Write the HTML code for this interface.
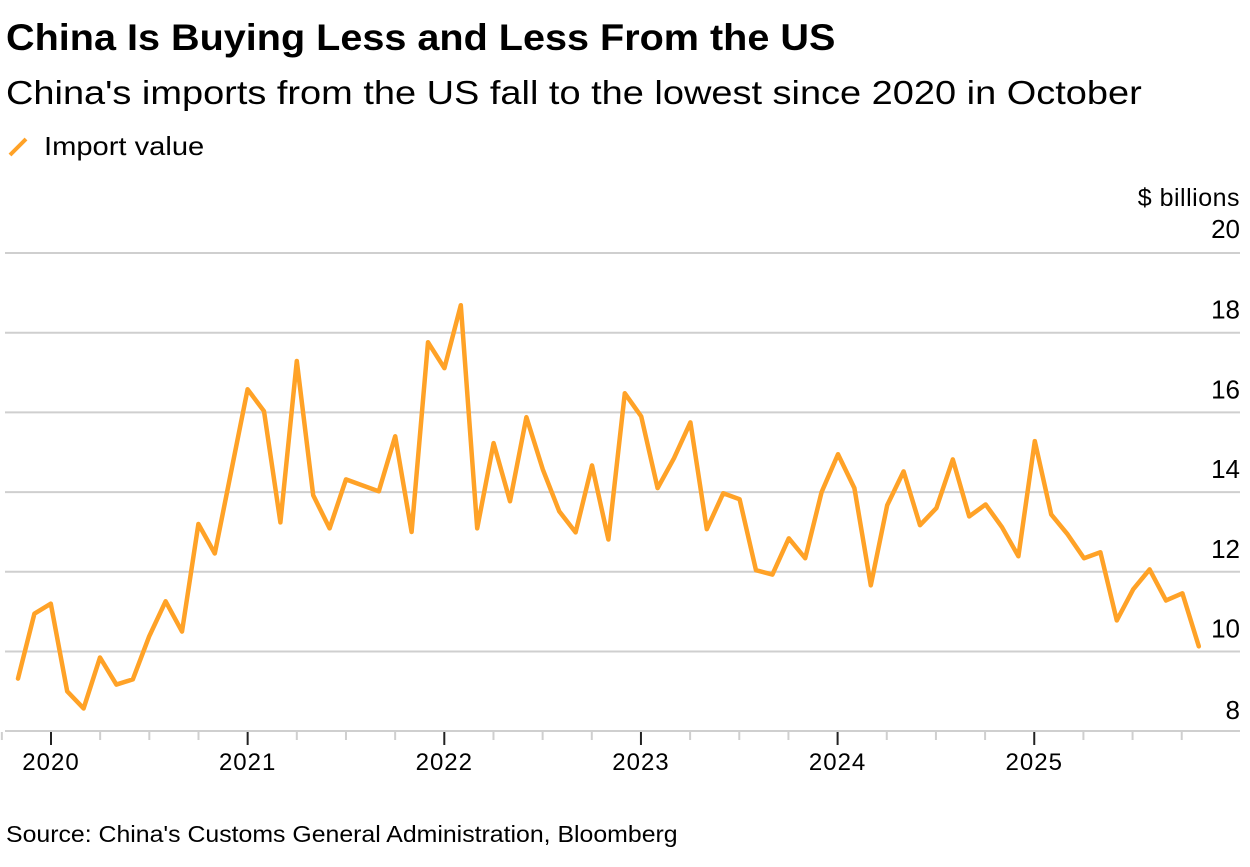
<!DOCTYPE html>
<html><head><meta charset="utf-8"><style>
body{margin:0;background:#fff;font-family:"Liberation Sans",Arial,sans-serif;color:#000}
#wrap{position:relative;width:1250px;height:867px;overflow:hidden}
.t{position:absolute;white-space:nowrap;transform-origin:0 0}
</style></head><body>
<div id="wrap">
<div class="t" style="left:6px;top:17px;font-size:37px;font-weight:bold;transform:scaleX(1.07)">China Is Buying Less and Less From the US</div>
<div class="t" style="left:6px;top:74px;font-size:33px;transform:scaleX(1.15)">China's imports from the US fall to the lowest since 2020 in October</div>
<div class="t" style="left:6px;top:131px;font-size:26px"><svg width="30" height="26" style="vertical-align:-4px"><line x1="4" y1="22" x2="20" y2="6" stroke="#ffa227" stroke-width="4"/></svg><span style="margin-left:8px;display:inline-block;transform:scaleX(1.12);transform-origin:0 0">Import value</span></div>
<div class="t" style="left:6px;top:821px;font-size:23px;transform:scaleX(1.08)">Source: China's Customs General Administration, Bloomberg</div>
<svg id="chart" width="1250" height="867" style="position:absolute;left:0;top:0"></svg>
</div>
<script>
const yTicks=[8,10,12,14,16,18,20];
const years=["2020","2021","2022","2023","2024","2025"];
const values=[9.32,10.95,11.2,9.0,8.57,9.85,9.17,9.3,10.38,11.26,10.5,13.2,12.46,14.52,16.58,16.03,13.24,17.29,13.92,13.09,14.32,14.17,14.02,15.4,13.0,17.76,17.11,18.69,13.09,15.23,13.77,15.88,14.57,13.52,12.99,14.67,12.81,16.48,15.9,14.1,14.85,15.75,13.07,13.97,13.82,12.04,11.93,12.84,12.34,14.0,14.95,14.1,11.66,13.67,14.52,13.17,13.6,14.82,13.39,13.69,13.12,12.39,15.28,13.44,12.94,12.34,12.49,10.78,11.56,12.06,11.28,11.46,10.13];
const NS="http://www.w3.org/2000/svg";
const svg=document.getElementById('chart');
const y=v=>253+(20-v)*39.85;
const xm=i=>18+i*16.4;
const xYear=k=>51+k*196.65;
const FF='Liberation Sans, Arial, sans-serif';
function el(t,a){const e=document.createElementNS(NS,t);for(const k in a)e.setAttribute(k,a[k]);svg.appendChild(e);return e;}
yTicks.forEach(v=>{
  if(v>8){const g=el('line',{x1:5,x2:1240,y1:y(v),y2:y(v),stroke:'#cfcfcf','stroke-width':2});
  
  }
  const t=el('text',{x:1240,y:y(v)-(v===8?12:14)+(v===20?-1:0),'text-anchor':'end','font-size':26,'font-family':FF});
  t.textContent=v;
  
  
});
const lab=el('text',{x:1240,y:206,'text-anchor':'end','font-size':25,'font-family':FF,'letter-spacing':'0.5'});
lab.textContent='$ billions';


const base=el('line',{x1:5,x2:1240,y1:731,y2:731,stroke:'#cfcfcf','stroke-width':2});


for(let q=-1;q<24;q++){
  const x=xYear(0)+q*196.65/4;
  if(x>1240)break;
  const major=q%4===0;
  const tk=el('line',{x1:x,x2:x,y1:732,y2:major?745:740,stroke:major?'#222':'#cfcfcf','stroke-width':2});
  
  
}
years.forEach((yr,k)=>{
  const t=el('text',{x:xYear(k),y:770,'text-anchor':'middle','font-size':24,'font-family':FF,'letter-spacing':'1'});
  t.textContent=yr;
  
  
});
const p=el('polyline',{points:values.map((v,i)=>xm(i)+','+y(v)).join(' '),fill:'none',stroke:'#ffa227','stroke-width':4.5,'stroke-linejoin':'round','stroke-linecap':'round'});


</script>
</body></html>
